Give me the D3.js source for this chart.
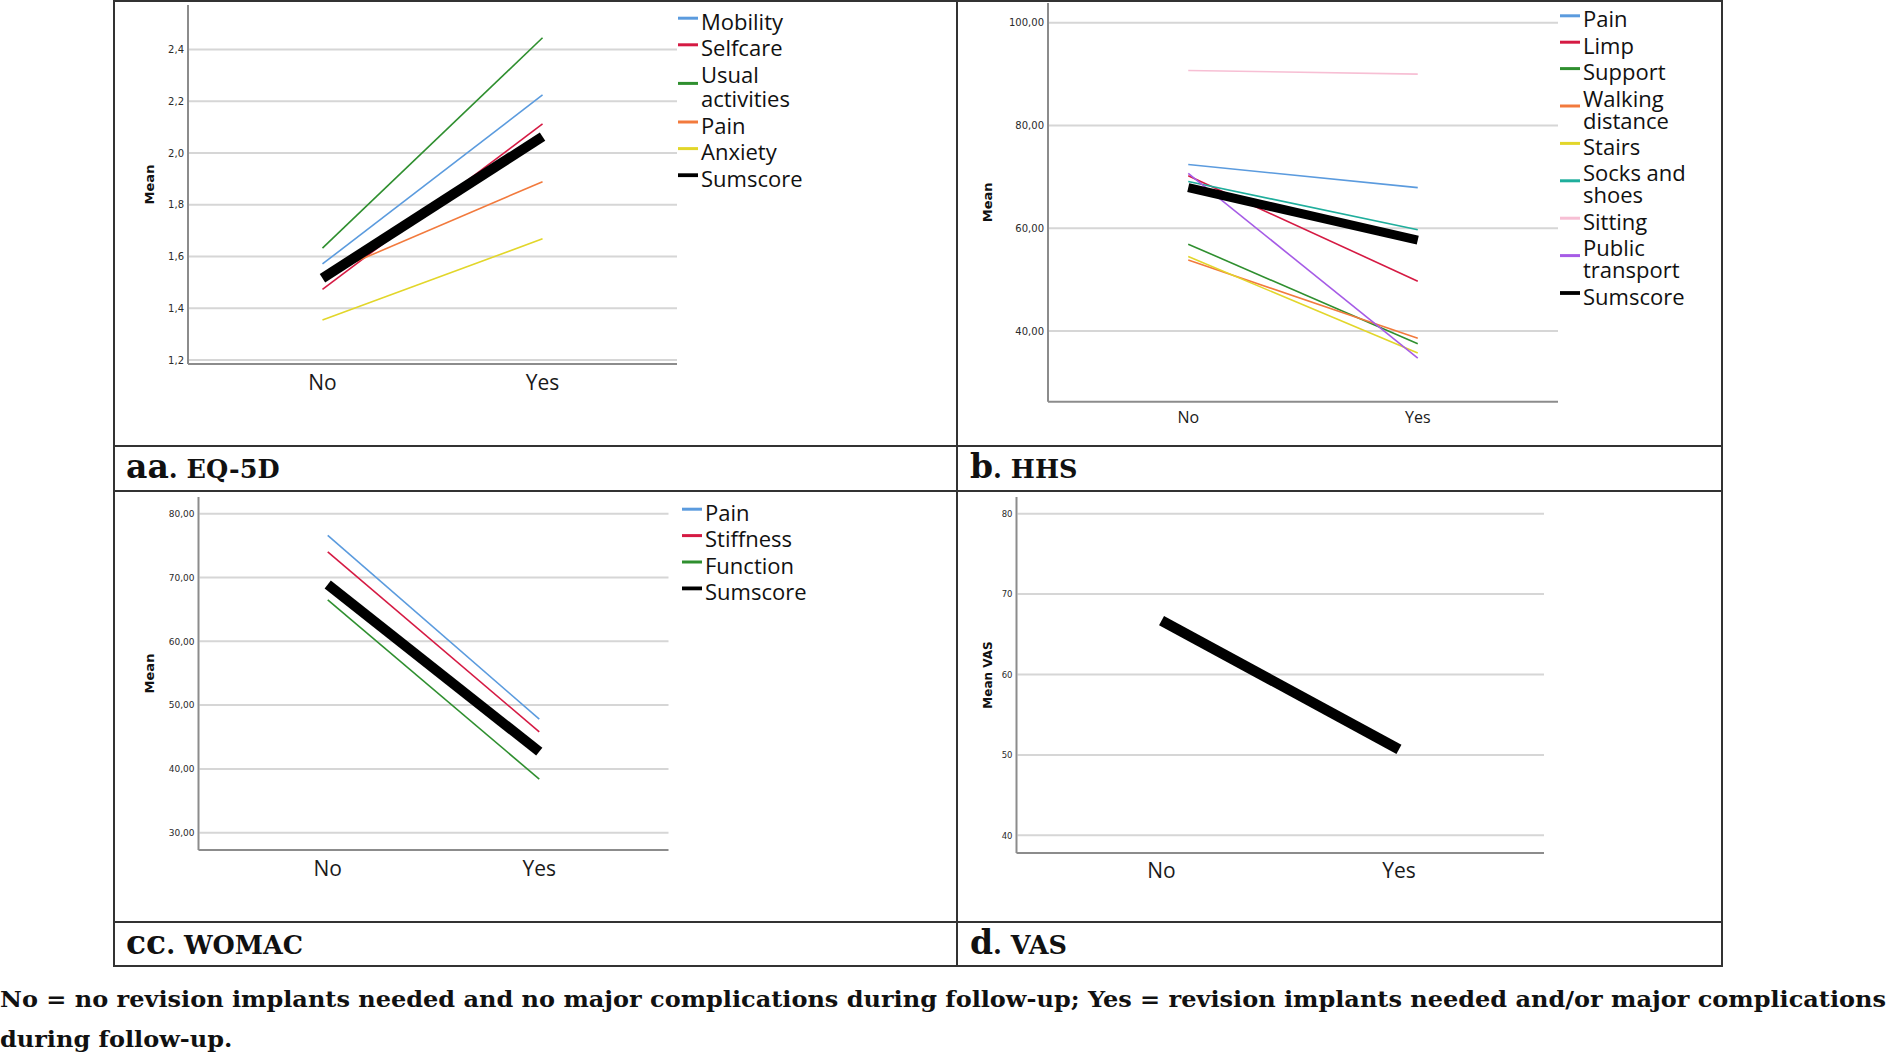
<!DOCTYPE html>
<html><head><meta charset="utf-8">
<script src="https://cdn.jsdelivr.net/npm/d3@7"></script>
<style>body{margin:0;background:#fff;} svg{display:block;}</style>
</head><body>
<svg id="fig" width="1889" height="1056"></svg>
<script>
const categories = ["No", "Yes"];

// a. EQ-5D
const eqSeries = ["Mobility", "Selfcare", "Usual activities", "Pain", "Anxiety", "Sumscore"];
const eqLegendLabels = [["Mobility"], ["Selfcare"], ["Usual", "activities"], ["Pain"], ["Anxiety"], ["Sumscore"]];
const eqNo  = [1.571, 1.473, 1.632, 1.525, 1.355, 1.516];
const eqYes = [2.224, 2.112, 2.445, 1.889, 1.668, 2.063];
const eqTickValues = [1.2, 1.4, 1.6, 1.8, 2.0, 2.2, 2.4];
const eqTickLabels = ["1,2", "1,4", "1,6", "1,8", "2,0", "2,2", "2,4"];

// b. HHS
const hhsSeries = ["Pain", "Limp", "Support", "Walking distance", "Stairs", "Socks and shoes", "Sitting", "Public transport", "Sumscore"];
const hhsLegendLabels = [["Pain"], ["Limp"], ["Support"], ["Walking", "distance"], ["Stairs"], ["Socks and", "shoes"], ["Sitting"], ["Public", "transport"], ["Sumscore"]];
const hhsNo  = [72.4, 70.2, 56.9, 53.8, 54.5, 69.1, 90.7, 70.7, 67.9];
const hhsYes = [67.9, 49.7, 37.5, 38.6, 35.7, 59.7, 90.0, 34.7, 57.7];
const hhsTickValues = [40, 60, 80, 100];
const hhsTickLabels = ["40,00", "60,00", "80,00", "100,00"];

// c. WOMAC
const womacSeries = ["Pain", "Stiffness", "Function", "Sumscore"];
const womacLegendLabels = [["Pain"], ["Stiffness"], ["Function"], ["Sumscore"]];
const womacNo  = [76.6, 74.0, 66.5, 68.9];
const womacYes = [47.8, 45.8, 38.4, 42.7];
const womacTickValues = [30, 40, 50, 60, 70, 80];
const womacTickLabels = ["30,00", "40,00", "50,00", "60,00", "70,00", "80,00"];

// d. VAS
const vasSeries = ["Sumscore"];
const vasNo  = [66.7];
const vasYes = [50.7];
const vasTickValues = [40, 50, 60, 70, 80];
const vasTickLabels = ["40", "50", "60", "70", "80"];

// captions
const captionLetters = ["aa", "b", "cc", "d"];
const captionNames = ["EQ-5D", "HHS", "WOMAC", "VAS"];
const footnoteLines = [
  "No = no revision implants needed and no major complications during follow-up; Yes = revision implants needed and/or major complications",
  "during follow-up."
];

// styles (kept separate from data)
const eqColors = ["#5b9bde", "#d51a43", "#2f8f2f", "#f27a3d", "#e2d62a", "#000000"];
const hhsColors = ["#5b9bde", "#d51a43", "#2f8f2f", "#f27a3d", "#e2d62a", "#1fae9c", "#f7bfd4", "#a65ce6", "#000000"];
const womacColors = ["#5b9bde", "#d51a43", "#2f8f2f", "#000000"];
const vasColors = ["#000000"];

const svg = d3.select("#fig");
svg.append("rect").attr("width", 1889).attr("height", 1056).attr("fill", "#fff");

function drawPanel(o) {
  const g = svg.append("g");
  const x = d3.scalePoint().domain(categories).range([o.x0, o.x1]).padding(0.611);
  const y = d3.scaleLinear().domain(o.domain).range(o.range);

  // gridlines
  g.append("g").selectAll("line").data(o.ticks).join("line")
    .attr("x1", o.x0 + 1).attr("x2", o.x1)
    .attr("y1", d => y(d)).attr("y2", d => y(d))
    .attr("stroke", "#d6d6d6").attr("stroke-width", 2);

  // y-axis tick labels
  const ax = d3.axisLeft(y).tickValues(o.ticks)
    .tickFormat((d, i) => o.tickLabels[i]).tickSize(0).tickPadding(4);
  const axg = g.append("g").attr("transform", `translate(${o.x0},0)`).call(ax);
  axg.select(".domain").remove();
  axg.selectAll("text").attr("font-family", "DejaVu Sans").attr("font-size", o.tickFont).attr("fill", "#2a2a2a");

  // axis lines
  const yBottom = o.axisBottom, yTop = o.axisTop;
  g.append("line").attr("x1", o.x0).attr("x2", o.x0).attr("y1", yTop).attr("y2", yBottom)
    .attr("stroke", "#8c8c8c").attr("stroke-width", 2);
  g.append("line").attr("x1", o.x0).attr("x2", o.x1).attr("y1", yBottom).attr("y2", yBottom)
    .attr("stroke", "#8c8c8c").attr("stroke-width", 2);

  // y title
  g.append("text")
    .attr("transform", `translate(${o.titleX},${(yTop + yBottom) / 2}) rotate(-90)`)
    .attr("text-anchor", "middle").attr("dominant-baseline", "central")
    .attr("font-family", "DejaVu Sans").attr("font-weight", "bold")
    .attr("font-size", o.titleFont).attr("fill", "#111").text(o.yTitle);

  // x labels
  g.append("g").selectAll("text").data(categories).join("text")
    .attr("x", d => x(d)).attr("y", yBottom + o.xLabelOffset)
    .attr("text-anchor", "middle").attr("dominant-baseline", "central")
    .attr("font-family", "Open Sans").attr("font-size", o.xLabelFont).attr("fill", "#1a1a1a")
    .text(d => d);

  // series lines
  const line = d3.line().x(d => x(d.cat)).y(d => y(d.v));
  o.series.forEach((s, i) => {
    const pts = categories.map((c, j) => ({ cat: c, v: j === 0 ? o.no[i] : o.yes[i] }));
    g.append("path").datum(pts).attr("d", line)
      .attr("fill", "none").attr("stroke", o.colors[i])
      .attr("stroke-width", s === "Sumscore" ? o.bigWidth : 1.6)
      .attr("stroke-linecap", "butt");
  });

  // legend
  if (o.legend) {
    let cy = o.legendY;
    o.legend.forEach((lines, i) => {
      const blockCenter = cy + (lines.length - 1) * o.legendIntra / 2;
      g.append("line").attr("x1", o.legendX).attr("x2", o.legendX + 20)
        .attr("y1", blockCenter - 2.5).attr("y2", blockCenter - 2.5)
        .attr("stroke", o.colors[i]).attr("stroke-width", o.series[i] === "Sumscore" ? 3.8 : 3);
      lines.forEach((ln, k) => {
        g.append("text").attr("x", o.legendX + 23).attr("y", cy + k * o.legendIntra)
          .attr("dominant-baseline", "central")
          .attr("font-family", "Open Sans").attr("font-size", o.legendFont).attr("fill", "#111")
          .text(ln);
      });
      cy += (lines.length - 1) * o.legendIntra + o.legendInter;
    });
  }
}

drawPanel({
  series: eqSeries, no: eqNo, yes: eqYes, colors: eqColors, legend: eqLegendLabels,
  ticks: eqTickValues, tickLabels: eqTickLabels, tickFont: 10,
  domain: [1.2, 2.4], range: [360, 49.4], x0: 188, x1: 677, axisTop: 5, axisBottom: 364,
  titleX: 149, yTitle: "Mean", titleFont: 13, xLabelOffset: 18, xLabelFont: 21, bigWidth: 10,
  legendX: 678, legendY: 20.7, legendInter: 26.6, legendIntra: 24, legendFont: 22
});
drawPanel({
  series: hhsSeries, no: hhsNo, yes: hhsYes, colors: hhsColors, legend: hhsLegendLabels,
  ticks: hhsTickValues, tickLabels: hhsTickLabels, tickFont: 10,
  domain: [40, 100], range: [331, 22.7], x0: 1048, x1: 1558, axisTop: 3, axisBottom: 401.7,
  titleX: 987, yTitle: "Mean", titleFont: 13, xLabelOffset: 15, xLabelFont: 16, bigWidth: 9,
  legendX: 1560, legendY: 18.3, legendInter: 26.4, legendIntra: 22, legendFont: 22
});
drawPanel({
  series: womacSeries, no: womacNo, yes: womacYes, colors: womacColors, legend: womacLegendLabels,
  ticks: womacTickValues, tickLabels: womacTickLabels, tickFont: 9,
  domain: [30, 80], range: [832.7, 513.7], x0: 198.5, x1: 668.5, axisTop: 497, axisBottom: 850,
  titleX: 149, yTitle: "Mean", titleFont: 13, xLabelOffset: 18, xLabelFont: 21, bigWidth: 10,
  legendX: 682, legendY: 511.7, legendInter: 26.4, legendIntra: 22, legendFont: 22
});
drawPanel({
  series: vasSeries, no: vasNo, yes: vasYes, colors: vasColors, legend: null,
  ticks: vasTickValues, tickLabels: vasTickLabels, tickFont: 8.5,
  domain: [40, 80], range: [835.3, 513.7], x0: 1016.5, x1: 1544, axisTop: 497, axisBottom: 853,
  titleX: 988, yTitle: "Mean VAS", titleFont: 12, xLabelOffset: 17, xLabelFont: 21, bigWidth: 10.5
});

// table borders
const border = svg.append("g").attr("stroke", "#333").attr("stroke-width", 2).attr("fill", "none");
border.append("rect").attr("x", 114).attr("y", 1).attr("width", 1722 - 114).attr("height", 966 - 1);
[446, 491, 922].forEach(yy => border.append("line").attr("x1", 114).attr("x2", 1722).attr("y1", yy).attr("y2", yy));
border.append("line").attr("x1", 957).attr("x2", 957).attr("y1", 1).attr("y2", 966);

// captions
const capPos = [[126, 478], [970, 478], [126, 954], [970, 954]];
captionLetters.forEach((l, i) => {
  const t = svg.append("text").attr("x", capPos[i][0]).attr("y", capPos[i][1])
    .attr("font-family", "DejaVu Serif").attr("font-weight", "bold").attr("fill", "#111");
  t.append("tspan").attr("font-size", 33).text(l);
  t.append("tspan").attr("font-size", 25.5).text(". " + captionNames[i]);
});

// footnote (bold serif, fitted to the page width)
const fn = svg.append("g").attr("font-family", "DejaVu Serif").attr("font-weight", "bold").attr("fill", "#111");
const f1 = fn.append("text").attr("x", 0).attr("y", 1007).attr("font-size", 22).text(footnoteLines[0]);
const f2 = fn.append("text").attr("x", 0).attr("y", 1047).attr("font-size", 22).text(footnoteLines[1]);
const w1 = f1.node().getComputedTextLength();
const w2 = f2.node().getComputedTextLength();
const r = 1886 / w1;
f1.attr("textLength", w1 * r).attr("lengthAdjust", "spacingAndGlyphs");
f2.attr("textLength", w2 * r).attr("lengthAdjust", "spacingAndGlyphs");
</script>
</body></html>
